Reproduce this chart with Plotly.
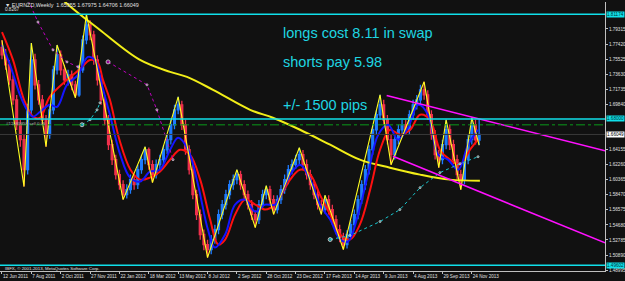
import plotly.graph_objects as go
import pandas as pd

# ---------------- data ----------------
start = pd.Timestamp("2011-06-12")
n_weeks = 131
week_dates = pd.date_range(start, periods=n_weeks, freq="7D")

opens = [1.7700,1.7605,1.7480,1.7292,1.7041,1.6727,1.6539,1.6162,1.6915,1.7542,
1.7229,1.7041,1.6790,1.6602,1.6915,1.7417,1.7605,1.7417,1.7292,1.7354,
1.7229,1.7103,1.7417,1.7793,1.7981,1.7856,1.7542,1.7292,1.7041,1.6790,
1.6476,1.6288,1.6100,1.5974,1.5848,1.5911,1.6037,1.5974,1.6162,1.6288,
1.6413,1.6225,1.6100,1.6225,1.6288,1.6413,1.6539,1.6727,1.6915,1.6978,
1.6727,1.6413,1.6162,1.5848,1.5597,1.5347,1.5221,1.5158,1.5284,1.5409,
1.5597,1.5723,1.5848,1.5974,1.6037,1.6100,1.5974,1.5848,1.5723,1.5597,
1.5535,1.5723,1.5848,1.5911,1.5786,1.5660,1.5786,1.5911,1.6037,1.6162,
1.6225,1.6288,1.6351,1.6225,1.6100,1.5974,1.5848,1.5723,1.5660,1.5786,
1.5660,1.5535,1.5409,1.5309,1.5221,1.5347,1.5472,1.5597,1.5786,1.5974,
1.6162,1.6413,1.6664,1.6853,1.6978,1.6790,1.6539,1.6351,1.6539,1.6664,
1.6727,1.6664,1.6853,1.6978,1.7041,1.7166,1.7103,1.6853,1.6602,1.6351,
1.6288,1.6476,1.6664,1.6476,1.6288,1.6100,1.6037,1.6288,1.6539,1.6727,
1.65355]
closes = [1.7605,1.7480,1.7292,1.7041,1.6727,1.6539,1.6162,1.6915,1.7542,1.7229,
1.7041,1.6790,1.6602,1.6915,1.7417,1.7605,1.7417,1.7292,1.7354,1.7229,
1.7103,1.7417,1.7793,1.7981,1.7856,1.7542,1.7292,1.7041,1.6790,1.6476,
1.6288,1.6100,1.5974,1.5848,1.5911,1.6037,1.5974,1.6162,1.6288,1.6413,
1.6225,1.6100,1.6225,1.6288,1.6413,1.6539,1.6727,1.6915,1.6978,1.6727,
1.6413,1.6162,1.5848,1.5597,1.5347,1.5221,1.5158,1.5284,1.5409,1.5597,
1.5723,1.5848,1.5974,1.6037,1.6100,1.5974,1.5848,1.5723,1.5597,1.5535,
1.5723,1.5848,1.5911,1.5786,1.5660,1.5786,1.5911,1.6037,1.6162,1.6225,
1.6288,1.6351,1.6225,1.6100,1.5974,1.5848,1.5723,1.5660,1.5786,1.5660,
1.5535,1.5409,1.5309,1.5221,1.5347,1.5472,1.5597,1.5786,1.5974,1.6162,
1.6413,1.6664,1.6853,1.6978,1.6790,1.6539,1.6351,1.6539,1.6664,1.6727,
1.6664,1.6853,1.6978,1.7041,1.7166,1.7103,1.6853,1.6602,1.6351,1.6288,
1.6476,1.6664,1.6476,1.6288,1.6100,1.6037,1.6288,1.6539,1.6727,1.6536,
1.66049]
highs = [1.7790,1.7680,1.7540,1.7350,1.7100,1.6790,1.6600,1.6990,1.7755,1.7620,
1.7290,1.7100,1.6850,1.6970,1.7470,1.7730,1.7660,1.7480,1.7420,1.7410,
1.7280,1.7480,1.7850,1.8117,1.8040,1.7910,1.7600,1.7350,1.7100,1.6850,
1.6540,1.6350,1.6160,1.6030,1.5980,1.6100,1.6100,1.6220,1.6350,1.6450,
1.6440,1.6280,1.6290,1.6350,1.6470,1.6600,1.6790,1.6980,1.7078,1.7030,
1.6790,1.6470,1.6220,1.5910,1.5660,1.5410,1.5280,1.5340,1.5470,1.5660,
1.5780,1.5910,1.6030,1.6100,1.6162,1.6150,1.6030,1.5900,1.5780,1.5650,
1.5780,1.5910,1.5960,1.5960,1.5840,1.5840,1.5970,1.6100,1.6220,1.6290,
1.6350,1.6438,1.6410,1.6290,1.6160,1.6030,1.5910,1.5780,1.5840,1.5840,
1.5720,1.5590,1.5470,1.5370,1.5400,1.5530,1.5660,1.5840,1.6030,1.6220,
1.6470,1.6730,1.6910,1.7103,1.7040,1.6850,1.6600,1.6600,1.6730,1.6790,
1.6790,1.6910,1.7040,1.7100,1.7230,1.7267,1.7160,1.6910,1.6660,1.6410,
1.6540,1.6790,1.6730,1.6540,1.6350,1.6160,1.6350,1.6600,1.6815,1.6790,
1.67975]
lows = [1.7550,1.7420,1.7230,1.6980,1.6660,1.6450,1.5950,1.6100,1.6860,1.7170,
1.6980,1.6720,1.6451,1.6550,1.6860,1.7360,1.7350,1.7230,1.7220,1.7160,
1.7066,1.7080,1.7380,1.7740,1.7790,1.7480,1.7220,1.6980,1.6720,1.6410,
1.6220,1.6040,1.5910,1.5786,1.5800,1.5860,1.5910,1.5920,1.6110,1.6230,
1.6160,1.6000,1.6050,1.6170,1.6230,1.6360,1.6480,1.6670,1.6860,1.6660,
1.6350,1.6100,1.5790,1.5530,1.5280,1.5150,1.5057,1.5100,1.5230,1.5350,
1.5540,1.5660,1.5790,1.5910,1.5980,1.5910,1.5790,1.5660,1.5530,1.5434,
1.5480,1.5670,1.5790,1.5730,1.5600,1.5610,1.5730,1.5860,1.5980,1.6100,
1.6170,1.6230,1.6160,1.6040,1.5910,1.5790,1.5660,1.5600,1.5610,1.5600,
1.5470,1.5350,1.5250,1.5158,1.5170,1.5290,1.5410,1.5540,1.5730,1.5910,
1.6100,1.6350,1.6600,1.6790,1.6730,1.6480,1.6225,1.6290,1.6480,1.6600,
1.6600,1.6600,1.6790,1.6920,1.6980,1.7040,1.6790,1.6540,1.6290,1.6187,
1.6230,1.6420,1.6410,1.6230,1.6040,1.5911,1.5980,1.6230,1.6480,1.6480,
1.64706]

# zigzag turning points (week index, price)
zz_idx = [0,6,8,12,15,20,23,33,39,41,48,56,64,69,72,74,81,87,88,93,103,106,115,119,121,125,128,130]
zz_val = [1.7790,1.5950,1.7755,1.6451,1.7730,1.7066,1.8117,1.5786,1.6450,1.6000,1.7078,1.5057,
          1.6162,1.5434,1.5960,1.5600,1.6438,1.5600,1.5840,1.5158,1.7103,1.6225,1.7267,1.6187,
          1.6790,1.5911,1.6815,1.64706]

# red moving average (week index, price)
red_idx = [0,3,6,8.5,10.4,13,17.7,21,24,26,27.5,29.4,32,35,37.6,40.3,43,45.8,48.5,51.2,54,56.7,
           58.9,60.8,63.5,66.2,69,71.7,74.4,78.5,81.2,84,86.6,89.4,92.1,94.8,97.5,100.3,103,
           105.7,108.4,111.2,113.9,116.6,119.3,122,124.8,127.5,129.7]
red_val = [1.7893,1.7542,1.7041,1.6828,1.6815,1.7078,1.7292,1.7417,1.7542,1.7517,1.7292,1.7041,
           1.6539,1.6162,1.6037,1.6062,1.6137,1.6288,1.6413,1.6351,1.6037,1.5535,1.5221,1.5284,
           1.5597,1.5786,1.5723,1.5660,1.5723,1.6037,1.6162,1.6100,1.5848,1.5597,1.5347,1.5284,
           1.5472,1.5911,1.6413,1.6664,1.6602,1.6664,1.6853,1.6790,1.6413,1.6288,1.6225,1.6413,
           1.6539]

# blue moving average (week index, price)
blue_idx = [0,2.2,4.9,6.8,8.4,10.4,13,15,17.7,20.7,23.4,25.3,27.2,29.4,32.2,34.9,37.6,40.3,43,
            45.8,48,50.7,53.4,56.1,58,60.8,63.5,66.2,69,71.7,74.4,78.5,81.2,84,86.6,89.4,92.1,
            94.3,97,99.7,102.5,105.2,107.9,110.6,113.4,116.1,118.8,121.5,124.3,127,129.7]
blue_val = [1.7730,1.7480,1.7103,1.6915,1.6828,1.6890,1.6978,1.6953,1.7229,1.7354,1.7580,1.7542,
            1.7229,1.6853,1.6351,1.6062,1.6012,1.6137,1.6162,1.6413,1.6564,1.6413,1.5974,1.5409,
            1.5183,1.5347,1.5723,1.5786,1.5635,1.5723,1.5723,1.6100,1.6225,1.6037,1.5723,1.5535,
            1.5284,1.5259,1.5597,1.6100,1.6602,1.6727,1.6539,1.6690,1.6978,1.6853,1.6351,1.6288,
            1.6162,1.6476,1.6664]

# long yellow moving average
yma_idx = [13,16.6,26.7,37.6,45.8,50.4,57.5,67.6,73.8,81.2,89.4,97.5,105.7,113.9,122,130.2]
yma_val = [1.8490,1.8296,1.7918,1.7542,1.7392,1.7329,1.7166,1.6915,1.6815,1.6664,1.6476,1.6288,
           1.6187,1.6100,1.6037,1.6024]

# magenta dotted higher-timeframe line (two segments)
mag1_idx = [7.1,9.8,13.9,17.7,20.7]
mag1_val = [1.8296,1.8019,1.7668,1.7517,1.7455]
mag2_idx = [28.9,39.5,42.2,46.6]
mag2_val = [1.7517,1.7229,1.6915,1.6288]

# cyan dotted line (two segments)
cy1_idx = [21.8,24,25.9,26.7]
cy1_val = [1.6727,1.6790,1.6915,1.7003]
cy2_idx = [89.4,94.8,103,108.4,113.9,119.3,124.8,129.7]
cy2_val = [1.5284,1.5334,1.5510,1.5660,1.5936,1.6125,1.6238,1.6325]

# channel trend lines (week index, price)
chan_up_idx = [104.8, 164.3]
chan_up_val = [1.7094, 1.6400]
chan_lo_idx = [106.5, 164.3]
chan_lo_val = [1.6330, 1.5242]

# horizontal levels
cyan_levels = [1.81174, 1.68000, 1.49602]
order_level = 1.6726
bid_level = 1.66049

# axis ticks
x_tick_dates = ["2011-06-12","2011-08-07","2011-10-02","2011-11-27","2012-01-22","2012-03-18",
                "2012-05-13","2012-07-08","2012-09-02","2012-10-28","2012-12-23","2013-02-17",
                "2013-04-14","2013-06-09","2013-08-04","2013-09-29","2013-11-24"]
x_tick_text = ["12 Jun 2011","7 Aug 2011","2 Oct 2011","27 Nov 2011","22 Jan 2012","18 Mar 2012",
               "13 May 2012","8 Jul 2012","2 Sep 2012","28 Oct 2012","23 Dec 2012","17 Feb 2013",
               "14 Apr 2013","9 Jun 2013","4 Aug 2013","29 Sep 2013","24 Nov 2013"]
y_tick_vals = [1.79315,1.77420,1.75525,1.73630,1.71735,1.69840,1.64155,1.62260,1.60365,
               1.58470,1.56575,1.54680,1.52785,1.50890,1.48995]
y_tick_text = ["1.79315","1.77420","1.75525","1.73630","1.71735","1.69840","1.64155","1.62260",
               "1.60365","1.58470","1.56575","1.54680","1.52785","1.50890","1.48995"]

notes = ["longs cost 8.11 in swap", "shorts pay 5.98", "+/- 1500 pips"]


def idx_dates(idx):
    return [start + pd.Timedelta(days=7 * i) for i in idx]


# ---------------- figure ----------------
W, H = 625, 281
M_L, M_R, M_T, M_B = 0, 20, 2, 9.5
BG = "#111111"
fig = go.Figure()

fig.add_trace(go.Candlestick(
    x=week_dates, open=opens, high=highs, low=lows, close=closes,
    increasing=dict(line=dict(color="#1E7BFF", width=1.3), fillcolor="#1E7BFF"),
    decreasing=dict(line=dict(color="#F0304C", width=1.3), fillcolor="#F0304C"),
    whiskerwidth=0, showlegend=False, hoverinfo="skip"))

fig.add_trace(go.Scatter(x=idx_dates(yma_idx), y=yma_val, mode="lines", line_shape="spline",
                         line=dict(color="#F2EE18", width=2), hoverinfo="skip"))
fig.add_trace(go.Scatter(x=idx_dates(red_idx), y=red_val, mode="lines", line_shape="spline",
                         line=dict(color="#FF1010", width=2), hoverinfo="skip"))
fig.add_trace(go.Scatter(x=idx_dates(blue_idx), y=blue_val, mode="lines", line_shape="spline",
                         line=dict(color="#1515FF", width=2), hoverinfo="skip"))
fig.add_trace(go.Scatter(x=idx_dates(zz_idx), y=zz_val, mode="lines",
                         line=dict(color="#FFFF20", width=1.1), hoverinfo="skip"))
for mi, mv in ((mag1_idx, mag1_val), (mag2_idx, mag2_val)):
    fig.add_trace(go.Scatter(x=idx_dates(mi), y=mv, mode="lines+markers",
                             line=dict(color="#C000C0", width=1, dash="dot"),
                             marker=dict(size=[4] + [2] * (len(mi) - 1), color="#C000C0"),
                             hoverinfo="skip"))
for ci, cv in ((cy1_idx, cy1_val), (cy2_idx, cy2_val)):
    fig.add_trace(go.Scatter(x=idx_dates(ci), y=cv, mode="lines+markers",
                             line=dict(color="#19C8D0", width=1, dash="dot"),
                             marker=dict(size=[4] + [2] * (len(ci) - 1), color="#19C8D0"),
                             hoverinfo="skip"))
for ti, tv in ((chan_up_idx, chan_up_val), (chan_lo_idx, chan_lo_val)):
    fig.add_trace(go.Scatter(x=idx_dates(ti), y=tv, mode="lines",
                             line=dict(color="#FF10FF", width=1.6), hoverinfo="skip"))

shapes = []
for lv in cyan_levels:
    shapes.append(dict(type="line", xref="paper", x0=0, x1=1, yref="y", y0=lv, y1=lv,
                       line=dict(color="#10E0EA", width=1.5)))
shapes.append(dict(type="line", xref="paper", x0=0, x1=1, yref="y", y0=order_level, y1=order_level,
                   line=dict(color="#0A9A1A", width=1, dash="dashdot")))
shapes.append(dict(type="line", xref="paper", x0=0, x1=1, yref="y", y0=bid_level, y1=bid_level,
                   line=dict(color="#3A3A3A", width=1)))

annotations = []
# price tags on right axis
for lv in cyan_levels:
    annotations.append(dict(x=1, xref="paper", y=lv, yref="y", xanchor="left", yanchor="middle",
                            text=f"{lv:.5f}", showarrow=False, bgcolor="#10E0EA",
                            font=dict(size=4.6, color="#003333", family="Liberation Sans"),
                            borderpad=0, xshift=1))
annotations.append(dict(x=1, xref="paper", y=bid_level, yref="y", xanchor="left", yanchor="middle",
                        text=f"{bid_level:.5f}", showarrow=False, bgcolor="#FFFFFF",
                        font=dict(size=4.6, color="#000000", family="Liberation Sans"),
                        borderpad=0, xshift=1))

plot_h = H - M_T - M_B
plot_w = W - M_L - M_R


def py(p):
    return 1 - (p - M_T) / plot_h


def px(p):
    return (p - M_L) / plot_w


note_y = [33, 62, 105.5]
for t, yy in zip(notes, note_y):
    annotations.append(dict(x=px(281), xref="paper", y=py(yy), yref="paper", xanchor="left",
                            yanchor="middle", text=t, showarrow=False,
                            font=dict(size=14.5, color="#1FD6E2", family="Liberation Sans")))

small = dict(family="Liberation Sans", color="#E0E0E0")
annotations.append(dict(x=px(3), xref="paper", y=py(5), yref="paper", xanchor="left", yanchor="middle",
                        text="\u25BC EURNZD,Weekly  1.65355 1.67975 1.64706 1.66049", showarrow=False,
                        font=dict(size=5.4, **small)))
annotations.append(dict(x=px(3), xref="paper", y=py(9.5), yref="paper", xanchor="left", yanchor="middle",
                        text="0.8267", showarrow=False, font=dict(size=4.6, **small)))
annotations.append(dict(x=px(3), xref="paper", y=py(269), yref="paper", xanchor="left", yanchor="middle",
                        text="IBFX, \u00A9 2001-2013, MetaQuotes Software Corp.", showarrow=False,
                        font=dict(size=4.4, **small)))
annotations.append(dict(x=px(4), xref="paper", y=py(124), yref="paper", xanchor="left", yanchor="middle",
                        text="#12089858 sell 0.05", showarrow=False,
                        font=dict(size=4.4, family="Liberation Sans", color="#B0B0B0")))

fig.update_layout(
    width=W, height=H, margin=dict(l=M_L, r=M_R, t=M_T, b=M_B, autoexpand=False),
    paper_bgcolor=BG, plot_bgcolor=BG, showlegend=False,
    shapes=shapes, annotations=annotations,
    xaxis=dict(type="date", range=["2011-06-08 05:00", "2014-08-05"], rangeslider=dict(visible=False),
               showgrid=False, zeroline=False, tickmode="array", tickvals=x_tick_dates,
               ticktext=x_tick_text, ticks="outside", ticklen=2, tickcolor="#C0C0C0",
               ticklabelposition="outside right", tickangle=0, automargin=False,
               tickfont=dict(size=4.6, color="#E0E0E0", family="Liberation Sans"),
               showline=True, linecolor="#C0C0C0", linewidth=1, mirror=False, fixedrange=True),
    yaxis=dict(side="right", range=[1.48882, 1.82704], showgrid=False, zeroline=False,
               tickmode="array", tickvals=y_tick_vals, ticktext=y_tick_text, automargin=False,
               ticks="outside", ticklen=2, tickcolor="#C0C0C0",
               tickfont=dict(size=4.6, color="#E0E0E0", family="Liberation Sans"),
               showline=True, linecolor="#C0C0C0", linewidth=1, fixedrange=True),
)

fig.write_html("out.html")
